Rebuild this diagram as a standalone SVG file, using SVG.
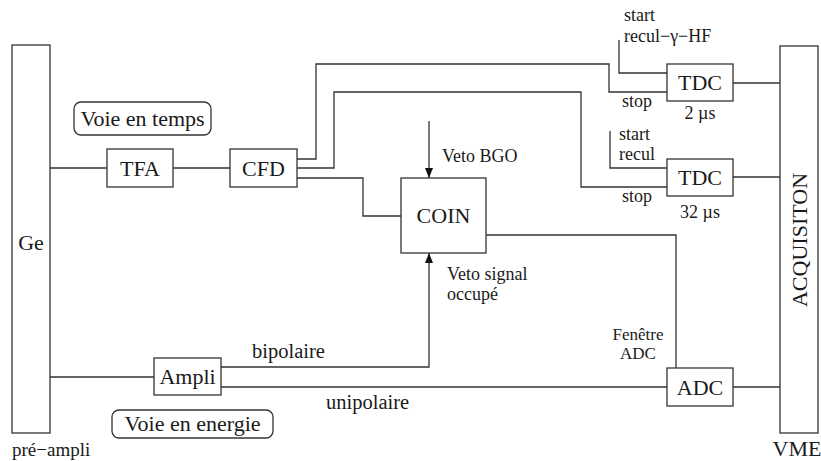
<svg xmlns="http://www.w3.org/2000/svg" width="821" height="461" viewBox="0 0 821 461">
<style>
text{font-family:'Liberation Serif','Times New Roman','DejaVu Serif',serif;fill:#1a1a1a}
.box{fill:#fff;stroke:#333;stroke-width:1.3}
.lbl{font-size:22px;text-anchor:middle}
.sm{font-size:18px}
.mid{font-size:20.5px}
.ln{fill:none;stroke:#333;stroke-width:1.3}
</style>
<defs>
<marker id="arr" viewBox="0 0 10 10" refX="10" refY="5" markerWidth="10" markerHeight="10" markerUnits="userSpaceOnUse" orient="auto">
<path d="M0,1 L10,5 L0,9 Z" fill="#111"/>
</marker>
</defs>
<g id="connectors">
<path class="ln" d="M50,168 H107"/>
<path class="ln" d="M173,168 H230"/>
<path class="ln" d="M297,159 H316 V64 H609 V92 H667"/>
<path class="ln" d="M297,168 H334 V92 H581 V187 H667"/>
<path class="ln" d="M297,178 H363 V216 H401"/>
<path class="ln" d="M619,40 V73 H667"/>
<path class="ln" d="M610,131 V168 H667"/>
<path class="ln" d="M733,83 H780"/>
<path class="ln" d="M733,177 H780"/>
<path class="ln" d="M429,121 V178" marker-end="url(#arr)"/>
<path class="ln" d="M486,235 H676 V368"/>
<path class="ln" d="M50,377 H154"/>
<path class="ln" d="M221,367 H429 V253" marker-end="url(#arr)"/>
<path class="ln" d="M221,387 H667"/>
<path class="ln" d="M733,387 H780"/>
</g>
<g id="ge"><rect class="box" x="12" y="45" width="38" height="388"/><text class="lbl" x="31" y="250">Ge</text><text class="sm" x="12" y="456" style="font-size:19px">pré−ampli</text></g>
<g id="voie-temps"><rect class="box" x="74" y="102" width="137" height="33" rx="7"/><text class="lbl" x="142.5" y="126">Voie en temps</text></g>
<g id="tfa"><rect class="box" x="107" y="149" width="66" height="38"/><text class="lbl" x="140" y="176">TFA</text></g>
<g id="cfd"><rect class="box" x="230" y="149" width="67" height="38"/><text class="lbl" x="263.5" y="176">CFD</text></g>
<g id="coin"><rect class="box" x="401" y="178" width="85" height="75"/><text class="lbl" x="443.5" y="223">COIN</text><text class="sm" x="442" y="162">Veto BGO</text><text class="sm" x="447" y="280">Veto signal</text><text class="sm" x="447" y="300">occupé</text></g>
<g id="tdc1"><rect class="box" x="667" y="64" width="66" height="37"/><text class="lbl" x="700" y="90">TDC</text><text class="sm" x="624" y="21">start</text><text class="sm" x="624" y="42">recul−γ−HF</text><text class="sm" x="622" y="107">stop</text><text class="sm" x="700" y="119" text-anchor="middle">2 µs</text></g>
<g id="tdc2"><rect class="box" x="667" y="159" width="66" height="37"/><text class="lbl" x="700" y="185">TDC</text><text class="sm" x="619" y="140">start</text><text class="sm" x="619" y="160">recul</text><text class="sm" x="622" y="202">stop</text><text class="sm" x="700" y="218" text-anchor="middle">32 µs</text></g>
<g id="ampli"><rect class="box" x="154" y="358" width="67" height="37"/><text class="lbl" x="187.5" y="384">Ampli</text><text class="mid" x="252" y="358">bipolaire</text><text class="mid" x="326" y="409">unipolaire</text></g>
<g id="voie-energie"><rect class="box" x="112" y="410" width="161" height="28" rx="7"/><text class="lbl" x="192.5" y="431">Voie en energie</text></g>
<g id="adc"><rect class="box" x="667" y="368" width="66" height="38"/><text class="sm" x="638" y="340" text-anchor="middle" style="font-size:17px">Fenêtre</text><text class="sm" x="638" y="359" text-anchor="middle" style="font-size:17px">ADC</text><text class="lbl" x="700" y="395">ADC</text></g>
<g id="acquisition"><rect class="box" x="780" y="46" width="38" height="387"/><text class="lbl" transform="translate(807,240) rotate(-90)">ACQUISITON</text><text class="lbl" x="797" y="456">VME</text></g>
</svg>
